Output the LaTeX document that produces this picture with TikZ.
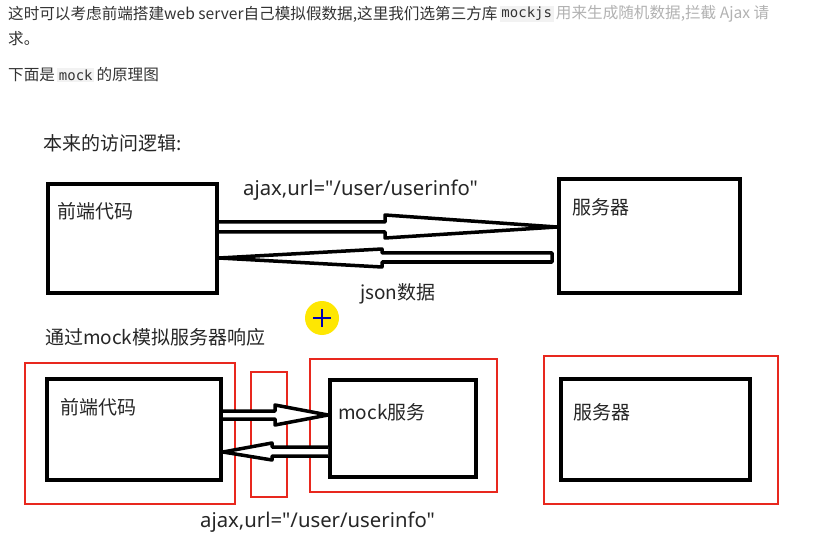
\documentclass[tikz,border=0pt]{standalone}
\usepackage{fontspec}
\setmainfont{Noto Sans CJK SC}
\newfontfamily\codefont{DejaVu Sans Mono}
\newfontfamily\latinfont[Ligatures=NoCommon]{Noto Sans}
\definecolor{redbox}{HTML}{E8281E}
\definecolor{txt}{HTML}{333333}
\definecolor{codebg}{HTML}{F2F2F2}
\begin{document}
\begin{tikzpicture}[x=1pt,y=-1pt,
  blackbox/.style={draw=black,line width=4pt,rectangle,inner sep=0pt,anchor=north west},
  redrect/.style={draw=redbox,line width=1.8pt,rectangle,inner sep=0pt,anchor=north west},
  lbl/.style={anchor=west,inner sep=0pt,text=black!85,font=\fontsize{19}{22}\selectfont},
  latlbl/.style={lbl,font=\latinfont\fontsize{20.3}{23}\selectfont},
  para/.style={anchor=west,inner sep=0pt,text=txt,font=\fontsize{15.6}{18}\selectfont},
  codebit/.style={anchor=west,inner sep=1.5pt,fill=codebg,text=txt,font=\codefont\fontsize{14}{16}\selectfont},
  hollow/.style={draw=black,line width=3.5pt,fill=white,line join=round}]
\useasboundingbox (0,0) rectangle (814,548);
\fill[white] (0,0) rectangle (814,548);

% paragraph at top
\node[para] (p1) at (8,14) {这时可以考虑前端搭建web server自己模拟假数据,这里我们选第三方库};
\node[codebit] (p1c) at ([xshift=2pt]p1.east) {mockjs};
\node[para,text=black!30] (p1f) at ([xshift=2pt]p1c.east) {用来生成随机数据,拦截 Ajax 请};
\node[para] (p2) at (8,39) {求。};
\node[para] (p3) at (8,75) {下面是};
\node[codebit] (p3c) at ([xshift=2pt]p3.east) {mock};
\node[para] (p3b) at ([xshift=2pt]p3c.east) {的原理图};

% first diagram
\node[lbl] (t1) at (43,143) {本来的访问逻辑:};
\node[blackbox,minimum width=169pt,minimum height=109pt] (fe1) at (46,182) {};
\node[blackbox,minimum width=181pt,minimum height=114pt] (sv1) at (557,177) {};
\node[lbl] (fe1t) at ([xshift=11pt,yshift=-29pt]fe1.north west) {前端代码};
\node[lbl] (sv1t) at ([xshift=15pt,yshift=-30pt]sv1.north west) {服务器};
\draw[hollow] (fe1.east |- 0,222) -- (385,222) -- (385,215) -- (sv1.west |- 0,227)
  -- (385,238) -- (385,232) -- (fe1.east |- 0,232);
\draw[hollow] (552,253) -- (382,253) -- (382,249) -- (fe1.east |- 0,258)
  -- (382,267) -- (382,262) -- (552,262) -- cycle;
\node[latlbl] (req1) at (243,190) {ajax,url="/user/userinfo"};
\node[lbl] (json) at (360,294) {json数据};

% cursor highlight
\fill[yellow!90!orange] (322,318) circle (17pt);
\draw[blue!70!black,line width=1.2pt] (313,318) -- (331,318) (322,309) -- (322,327);

% second diagram
\node[lbl] (t2) at (45,337) {通过mock模拟服务器响应};
\node[redrect,minimum width=210pt,minimum height=141pt] (r1) at (24,362) {};
\node[redrect,minimum width=36pt,minimum height=125pt] (r2) at (250,371) {};
\node[redrect,minimum width=187pt,minimum height=133pt] (r3) at (309,358) {};
\node[redrect,minimum width=234pt,minimum height=148pt] (r4) at (543,355) {};
\node[blackbox,minimum width=174pt,minimum height=101pt] (fe2) at (45,377) {};
\node[blackbox,minimum width=146pt,minimum height=97pt] (mk) at (328,378) {};
\node[blackbox,minimum width=189pt,minimum height=101pt] (sv2) at (559,377) {};
\node[lbl] (fe2t) at ([xshift=15pt,yshift=-30pt]fe2.north west) {前端代码};
\node[lbl] (mkt) at ([xshift=10pt,yshift=-34pt]mk.north west) {mock服务};
\node[lbl] (sv2t) at ([xshift=14pt,yshift=-35pt]sv2.north west) {服务器};
\draw[hollow] (fe2.east |- 0,411) -- (275,411) -- (275,405) -- (mk.west |- 0,415)
  -- (275,425) -- (275,419) -- (fe2.east |- 0,419);
\draw[hollow] (mk.west |- 0,447) -- (272,447) -- (272,443) -- (fe2.east |- 0,452)
  -- (272,460) -- (272,456) -- (mk.west |- 0,456);
\node[latlbl] (req2) at (200,522) {ajax,url="/user/userinfo"};
\end{tikzpicture}
\end{document}
